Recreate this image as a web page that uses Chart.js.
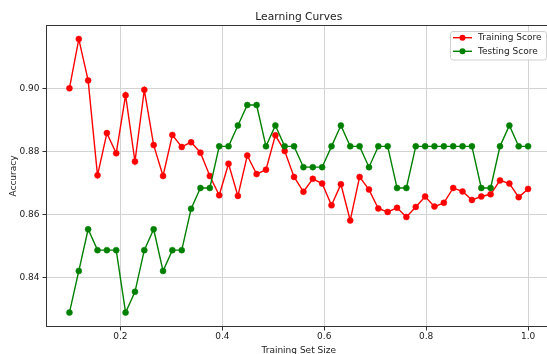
<!DOCTYPE html>
<html>
<head>
<meta charset="utf-8">
<script src="https://cdn.jsdelivr.net/npm/chart.js@4.4.1/dist/chart.umd.min.js"></script>
<style>
    html, body { margin: 0; padding: 0; background: #fff; overflow: hidden; }
    #wrap { width: 547px; height: 354px; overflow: hidden; }
    canvas { display: block; }
</style>
</head>
<body>
<div id="wrap">
    <canvas id="learningChart" width="560" height="354"></canvas>
</div>
<script>
/* =======================
   DATA
======================= */
const trainSizes = [
    0.1, 0.1184, 0.1367, 0.1551, 0.1735, 0.1918, 0.2102, 0.2286, 0.2469, 0.2653,
    0.2837, 0.3020, 0.3204, 0.3388, 0.3571, 0.3755, 0.3939, 0.4122, 0.4306, 0.4490,
    0.4673, 0.4857, 0.5041, 0.5224, 0.5408, 0.5592, 0.5776, 0.5959, 0.6143, 0.6327,
    0.6510, 0.6694, 0.6878, 0.7061, 0.7245, 0.7429, 0.7612, 0.7796, 0.7980, 0.8163,
    0.8347, 0.8531, 0.8714, 0.8898, 0.9082, 0.9265, 0.9449, 0.9633, 0.9816, 1.0
];

const trainingScores = [
    0.9000, 0.9156, 0.9025, 0.8724, 0.8858, 0.8794, 0.8978, 0.8768, 0.8995, 0.8820,
    0.8722, 0.8852, 0.8814, 0.8829, 0.8796, 0.8722, 0.8661, 0.8761, 0.8659, 0.8787,
    0.8728, 0.8742, 0.8851, 0.8801, 0.8719, 0.8672, 0.8713, 0.8698, 0.8629, 0.8696,
    0.8581, 0.8719, 0.8679, 0.8619, 0.8608, 0.8621, 0.8592, 0.8624, 0.8657, 0.8625,
    0.8637, 0.8684, 0.8673, 0.8646, 0.8657, 0.8664, 0.8708, 0.8698, 0.8655, 0.8681
];

const testingScores = [
    0.8289, 0.8421, 0.8553, 0.8487, 0.8487, 0.8487, 0.8289, 0.8355, 0.8487, 0.8553,
    0.8421, 0.8487, 0.8487, 0.8618, 0.8684, 0.8684, 0.8816, 0.8816, 0.8882, 0.8947,
    0.8947, 0.8816, 0.8882, 0.8816, 0.8816, 0.8750, 0.8750, 0.8750, 0.8816, 0.8882,
    0.8816, 0.8816, 0.8750, 0.8816, 0.8816, 0.8684, 0.8684, 0.8816, 0.8816, 0.8816,
    0.8816, 0.8816, 0.8816, 0.8816, 0.8684, 0.8684, 0.8816, 0.8882, 0.8816, 0.8816
];

const xTicks = [0.2, 0.4, 0.6, 0.8, 1.0];
const yTicks = [0.84, 0.86, 0.88, 0.90];

const seriesNames = ["Training Score", "Testing Score"];
const seriesColors = ["#ff0000", "#008000"];

const FONT = "DejaVu Sans";
const TEXT_COLOR = "#222";

/* =======================
   FRAME, TITLE, LEGEND
======================= */
const framePlugin = {
    id: "frame",
    afterDraw(chart) {
        const ctx = chart.ctx;
        const a = chart.chartArea;

        ctx.save();

        // box around the plot
        ctx.strokeStyle = "#333";
        ctx.lineWidth = 1;
        ctx.strokeRect(a.left, a.top, a.right - a.left, a.bottom - a.top);

        // title
        ctx.fillStyle = TEXT_COLOR;
        ctx.font = "10.7px '" + FONT + "'";
        ctx.textAlign = "center";
        ctx.textBaseline = "alphabetic";
        ctx.fillText("Learning Curves", (a.left + a.right) / 2, 20);

        // legend box
        ctx.fillStyle = "rgba(255,255,255,0.8)";
        ctx.strokeStyle = "#d0d0d0";
        ctx.beginPath();
        ctx.roundRect(450.5, 31.5, 96, 28.5, 2.5);
        ctx.fill();
        ctx.stroke();

        const rows = [37.7, 51.3];
        seriesNames.forEach((name, i) => {
            const y = rows[i];
            ctx.strokeStyle = seriesColors[i];
            ctx.lineWidth = 1.4;
            ctx.beginPath();
            ctx.moveTo(453, y);
            ctx.lineTo(472, y);
            ctx.stroke();

            ctx.fillStyle = seriesColors[i];
            ctx.beginPath();
            ctx.arc(462.5, y, 3, 0, Math.PI * 2);
            ctx.fill();

            ctx.fillStyle = TEXT_COLOR;
            ctx.font = "9px '" + FONT + "'";
            ctx.textAlign = "left";
            ctx.textBaseline = "middle";
            ctx.fillText(name, 478, y);
        });

        ctx.restore();
    }
};

/* =======================
   CHART
======================= */
const allScores = [trainingScores, testingScores];

new Chart(document.getElementById("learningChart"), {
    type: "line",
    data: {
        datasets: seriesNames.map((name, i) => ({
            label: name,
            data: trainSizes.map((x, j) => ({ x: x, y: allScores[i][j] })),
            borderColor: seriesColors[i],
            backgroundColor: seriesColors[i],
            borderWidth: 1.4,
            pointRadius: 3,
            pointBorderWidth: 0.5,
            pointBackgroundColor: seriesColors[i],
            pointBorderColor: seriesColors[i],
            tension: 0,
            fill: false,
            order: seriesNames.length - i
        }))
    },
    options: {
        responsive: false,
        animation: false,
        devicePixelRatio: 1,
        layout: {
            padding: { left: 0, top: 25.5, right: 9, bottom: 0 }
        },
        plugins: {
            legend: { display: false },
            title: { display: false },
            tooltip: { enabled: false }
        },
        scales: {
            x: {
                type: "linear",
                min: 0.055,
                max: 1.045,
                afterBuildTicks: s => { s.ticks = xTicks.map(v => ({ value: v })); },
                afterFit: s => { s.height = 27.5; },
                ticks: {
                    font: { family: FONT, size: 9 },
                    color: TEXT_COLOR,
                    padding: 1,
                    maxRotation: 0,
                    callback: v => Number(v).toFixed(1)
                },
                grid: {
                    color: "#d3d3d3",
                    lineWidth: 1,
                    tickLength: 4,
                    tickColor: "#333",
                    tickWidth: 1
                },
                border: { display: true, color: "#333" },
                title: {
                    display: true,
                    text: "Training Set Size",
                    font: { family: FONT, size: 9, lineHeight: 1 },
                    color: TEXT_COLOR,
                    padding: { top: 0, bottom: -1 }
                }
            },
            y: {
                type: "linear",
                min: 0.8245,
                max: 0.9199,
                afterBuildTicks: s => { s.ticks = yTicks.map(v => ({ value: v })); },
                afterFit: s => { s.width = 46.5; },
                ticks: {
                    font: { family: FONT, size: 9 },
                    color: TEXT_COLOR,
                    padding: 3,
                    callback: v => Number(v).toFixed(2)
                },
                grid: {
                    color: "#d3d3d3",
                    lineWidth: 1,
                    tickLength: 4,
                    tickColor: "#333",
                    tickWidth: 1
                },
                border: { display: true, color: "#333" },
                title: {
                    display: true,
                    text: "Accuracy",
                    font: { family: FONT, size: 9, lineHeight: 1 },
                    color: TEXT_COLOR,
                    padding: { top: 9.5, bottom: 0 }
                }
            }
        }
    },
    plugins: [framePlugin]
});
</script>
</body>
</html>
